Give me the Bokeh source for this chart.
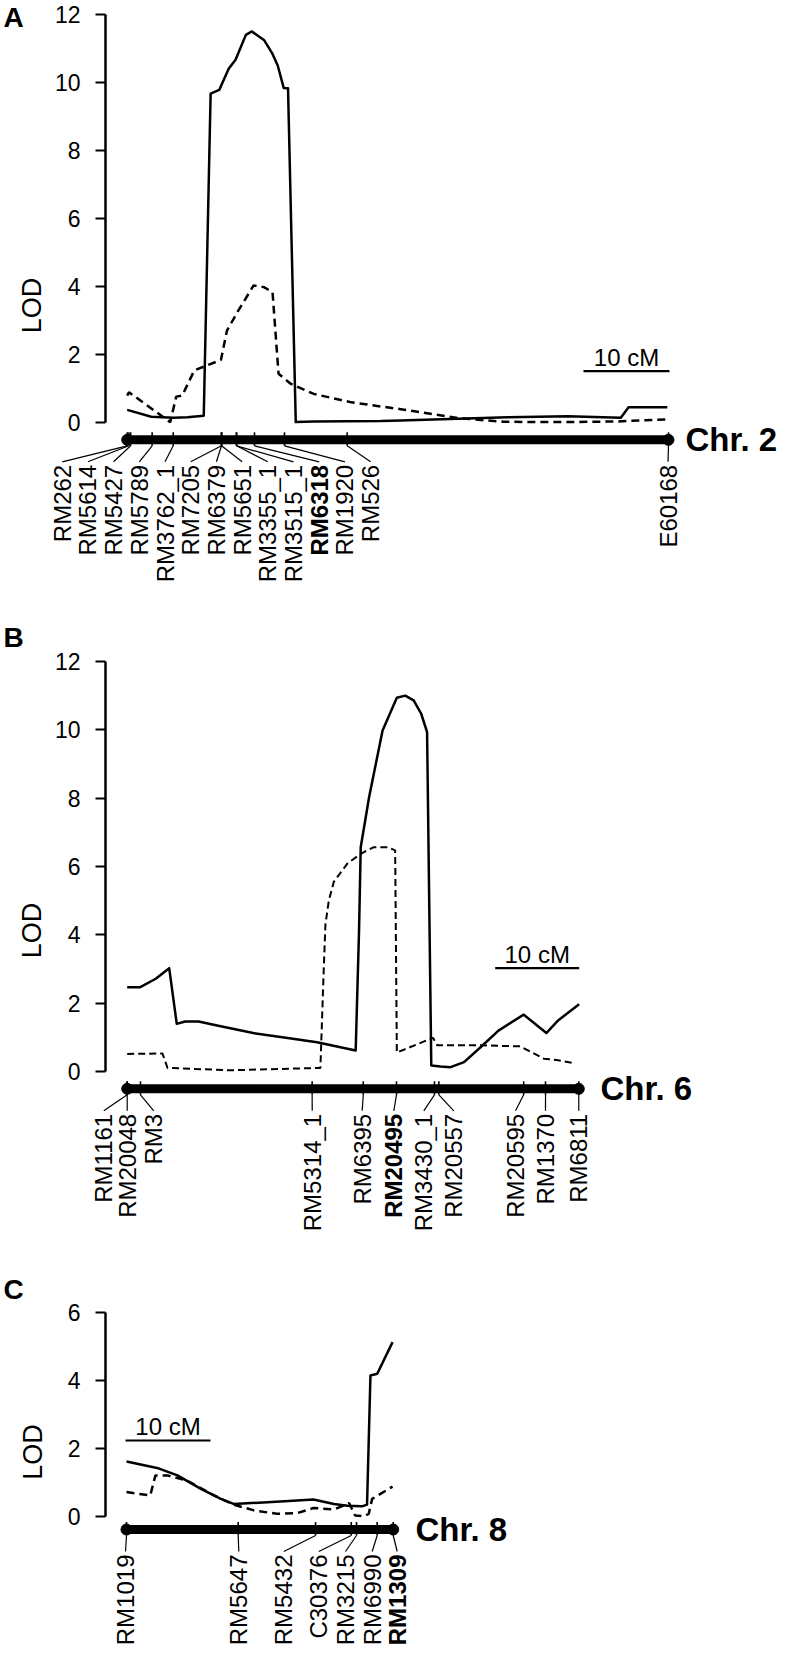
import numpy as np
from bokeh.plotting import figure
from bokeh.models import Range1d, FixedTicker
from bokeh.layouts import column
from bokeh.embed import file_html
from bokeh.resources import INLINE
from bokeh.core.properties import value

FONT = "Liberation Sans"

# ---------------- Panel A : chromosome 2 ----------------
a_markers = ["RM262", "RM5614", "RM5427", "RM5789", "RM3762_1", "RM7205", "RM6379",
             "RM5651", "RM3355_1", "RM3515_1", "RM6318", "RM1920", "RM526", "E60168"]
a_marker_cm = [0.0, 0.2, 0.4, 2.9, 5.35, 10.97, 10.97, 10.97, 12.71, 12.71, 14.8, 18.29, 25.58, 62.94]
a_bold = ["RM6318"]
a_solid_cm = [0.0, 2.8, 5.4, 7.0, 8.9, 9.7, 10.7, 11.8, 12.6, 13.8, 14.5, 15.9, 16.9, 17.5,
              18.2, 18.7, 19.6, 21.7, 29.5, 31.8, 44.2, 51.2, 57.4, 58.3, 62.8]
a_solid_lod = [0.38, 0.18, 0.15, 0.16, 0.21, 9.68, 9.79, 10.41, 10.68, 11.41, 11.51, 11.26, 10.85, 10.51,
               9.85, 9.84, 0.02, 0.04, 0.05, 0.07, 0.16, 0.19, 0.15, 0.46, 0.46]
a_dash_cm = [0.0, 0.2, 5.0, 5.7, 6.4, 7.8, 10.9, 11.6, 12.8, 14.7, 15.9, 16.9, 17.6, 19.0,
             21.7, 25.9, 29.5, 31.8, 38.4, 43.8, 50.8, 57.0, 62.8]
a_dash_lod = [0.80, 0.90, 0.02, 0.77, 0.80, 1.54, 1.85, 2.71, 3.25, 4.04, 3.99, 3.84, 1.44, 1.15,
              0.85, 0.61, 0.48, 0.40, 0.14, 0.03, 0.02, 0.04, 0.10]

# ---------------- Panel B : chromosome 6 ----------------
b_markers = ["RM1161", "RM20048", "RM3", "RM5314_1", "RM6395", "RM20495", "RM3430_1",
             "RM20557", "RM20595", "RM1370", "RM6811"]
b_marker_cm = [0.0, 0.0, 1.58, 22.02, 28.1, 32.06, 36.58, 37.1, 47.2, 49.8, 53.76]
b_bold = ["RM20495"]
b_solid_cm = [0.0, 1.5, 3.4, 5.0, 5.9, 6.9, 8.5, 10.7, 15.0, 19.3, 22.6, 27.2, 27.6, 27.8, 28.8,
              30.4, 32.1, 33.1, 34.1, 35.0, 35.7, 36.2, 37.3, 38.5, 40.1, 42.1, 44.2, 47.2, 49.9, 51.3, 53.8]
b_solid_lod = [2.46, 2.46, 2.71, 3.02, 1.39, 1.46, 1.46, 1.34, 1.12, 0.97, 0.85, 0.61, 4.12, 6.56, 8.03,
               9.98, 10.94, 11.0, 10.86, 10.47, 9.93, 0.17, 0.14, 0.12, 0.27, 0.71, 1.19, 1.66, 1.12, 1.49, 1.96]
b_dash_cm = [0.0, 4.2, 4.8, 12.3, 23.0, 23.4, 23.6, 24.0, 24.6, 26.2, 27.8, 29.3, 31.0, 31.9,
             32.1, 36.4, 36.9, 42.1, 46.8, 49.6, 51.1, 53.2]
b_dash_lod = [0.51, 0.52, 0.10, 0.03, 0.10, 3.0, 4.3, 5.0, 5.55, 6.08, 6.37, 6.56, 6.56, 6.47,
              0.55, 0.98, 0.76, 0.76, 0.73, 0.37, 0.33, 0.24]

# ---------------- Panel C : chromosome 8 ----------------
c_markers = ["RM1019", "RM5647", "RM5432", "C30376", "RM3215", "RM6990", "RM1309"]
c_marker_cm = [0.0, 13.14, 22.24, 26.44, 27.06, 29.49, 31.38]
c_bold = ["RM1309"]
c_solid_cm = [0.0, 3.6, 6.0, 8.7, 11.1, 12.6, 16.6, 22.0, 24.4, 26.0, 27.7, 28.3, 28.7, 29.5, 31.3]
c_solid_lod = [1.61, 1.42, 1.20, 0.81, 0.51, 0.36, 0.41, 0.49, 0.36, 0.31, 0.29, 0.34, 4.14, 4.19, 5.12]
c_dash_cm = [0.0, 2.8, 3.4, 4.8, 7.1, 10.3, 12.6, 15.0, 17.7, 20.1, 22.0, 24.4, 26.2, 26.9,
             27.9, 28.5, 28.9, 31.3]
c_dash_lod = [0.71, 0.61, 1.20, 1.20, 1.05, 0.61, 0.34, 0.17, 0.07, 0.09, 0.24, 0.20, 0.38, 0.02,
              0.00, 0.07, 0.51, 0.87]

a_yticks = [0, 2, 4, 6, 8, 10, 12]
b_yticks = [0, 2, 4, 6, 8, 10, 12]
c_yticks = [0, 2, 4, 6]

# ---------------- layout geometry (page pixels) ----------------
LAY_A = dict(top=0, height=610, zero_y=422.3, ppu=34.0, zero_x=126.7, ppc=8.6, bar_y=439.3,
             chr_x=685, letter_mid=17, scale_y=370.7, scale_x=583.0,
             label_x=[61.7, 87.4, 113.1, 138.8, 164.5, 190.2, 215.9, 241.6, 267.3, 293.0,
                      318.7, 344.4, 370.1, 667.5],
             dash="8 5", dash_w=2.5, lab_standoff=5)
LAY_B = dict(top=610, height=640, zero_y=1070.8, ppu=34.15, zero_x=126.7, ppc=8.4, bar_y=1088.3,
             chr_x=600, letter_mid=637, scale_y=967.7, scale_x=494.7,
             label_x=[103.3, 126.7, 153.3, 311.7, 361.7, 393.3, 423.3, 453.3, 515.0, 545.0, 578.3],
             dash="7 4", dash_w=2.0, lab_standoff=5)
LAY_C = dict(top=1250, height=403, zero_y=1515.7, ppu=34.0, zero_x=126.0, ppc=8.5, bar_y=1529.0,
             chr_x=415, letter_mid=1289, scale_y=1440.0, scale_x=125.0,
             label_x=[125.0, 238.3, 283.3, 318.3, 345.0, 371.7, 396.7],
             dash="8 5", dash_w=2.5, lab_standoff=17)


def make_panel(letter, chrom, markers, marker_cm, bold, s_cm, s_lod, d_cm, d_lod, yticks, L):
    top, H = L["top"], L["height"]
    zy, ppu, zx, ppc = L["zero_y"], L["ppu"], L["zero_x"], L["ppc"]

    def X(px):
        return (px - zx) / ppc

    def Y(py):
        return (zy - py) / ppu

    frame_left, frame_right = 105, 789
    p = figure(width=789, height=H, output_backend="svg", toolbar_location=None,
               x_range=Range1d(X(frame_left), X(frame_right)),
               y_range=Range1d(Y(top + H), Y(top)),
               x_axis_location=None,
               min_border_left=frame_left, min_border_right=0,
               min_border_top=0, min_border_bottom=0)
    p.outline_line_color = None
    p.xgrid.visible = False
    p.ygrid.visible = False
    p.background_fill_color = "white"
    p.border_fill_color = "white"

    ax = p.yaxis[0]
    ax.ticker = FixedTicker(ticks=yticks)
    ax.bounds = (yticks[0], yticks[-1])
    ax.axis_label = "LOD"
    ax.axis_label_text_font = FONT
    ax.axis_label_text_font_size = "27px"
    ax.axis_label_text_font_style = "normal"
    ax.axis_label_text_color = "black"
    ax.axis_label_standoff = L["lab_standoff"]
    ax.major_label_text_font = FONT
    ax.major_label_text_font_size = "23px"
    ax.major_label_text_color = "black"
    ax.major_label_standoff = 15
    ax.major_tick_out = 10
    ax.major_tick_in = 0
    ax.minor_tick_line_color = None
    ax.axis_line_width = 2.5
    ax.axis_line_color = "black"
    ax.major_tick_line_width = 2
    ax.major_tick_line_color = "black"

    # LOD curves
    p.line(d_cm, d_lod, line_color="black", line_width=L["dash_w"], line_dash=L["dash"])
    p.line(s_cm, s_lod, line_color="black", line_width=2.5, line_join="round")

    # chromosome bar
    yb = Y(L["bar_y"])
    total = marker_cm[-1]
    p.segment(x0=[0], y0=[yb], x1=[total], y1=[yb], line_color="black",
              line_width=9, line_cap="round")
    p.scatter([0, total], [yb, yb], size=11, color="black")

    # marker ticks and connectors
    t_top, t_bot = Y(L["bar_y"] - 7.5), Y(L["bar_y"] + 6)
    c_end, l_y = Y(L["bar_y"] + 22), Y(L["bar_y"] + 25)
    lx = [X(v) for v in L["label_x"]]
    n = len(markers)
    r1 = p.segment(x0=marker_cm, y0=[t_top] * n, x1=marker_cm, y1=[t_bot] * n,
                   line_color="black", line_width=1.6)
    r2 = p.segment(x0=marker_cm, y0=[t_bot] * n, x1=lx, y1=[c_end] * n,
                   line_color="black", line_width=1.2)
    r1.level = "overlay"
    r2.level = "overlay"

    for want_bold in (False, True):
        idx = [i for i, m in enumerate(markers) if (m in bold) == want_bold]
        if not idx:
            continue
        rt = p.text(x=[lx[i] for i in idx], y=[l_y] * len(idx),
                    text=[markers[i] for i in idx], angle=np.pi / 2,
                    text_align="right", text_baseline="middle",
                    text_font=value(FONT), text_font_size=value("24px"),
                    text_font_style="bold" if want_bold else "normal",
                    text_color="black")
        rt.level = "overlay"

    # scale bar 10 cM
    sx0 = X(L["scale_x"])
    p.segment(x0=[sx0], y0=[Y(L["scale_y"])], x1=[sx0 + 10], y1=[Y(L["scale_y"])],
              line_color="black", line_width=2.2)
    r = p.text(x=[sx0 + 5], y=[Y(L["scale_y"] - 14)], text=["10 cM"],
               text_align="center", text_baseline="middle",
               text_font=value(FONT), text_font_size=value("24px"), text_color="black")
    r.level = "overlay"

    # chromosome name
    r = p.text(x=[X(L["chr_x"])], y=[yb], text=[chrom], text_align="left",
               text_baseline="middle", text_font=value(FONT), text_font_size=value("33px"),
               text_font_style="bold", text_color="black")
    r.level = "overlay"
    # panel letter
    r = p.text(x=[X(3)], y=[Y(L["letter_mid"])], text=[letter], text_align="left",
               text_baseline="middle", text_font=value(FONT), text_font_size=value("28px"),
               text_font_style="bold", text_color="black")
    r.level = "overlay"
    return p


pA = make_panel("A", "Chr. 2", a_markers, a_marker_cm, a_bold, a_solid_cm, a_solid_lod,
                a_dash_cm, a_dash_lod, a_yticks, LAY_A)
pB = make_panel("B", "Chr. 6", b_markers, b_marker_cm, b_bold, b_solid_cm, b_solid_lod,
                b_dash_cm, b_dash_lod, b_yticks, LAY_B)
pC = make_panel("C", "Chr. 8", c_markers, c_marker_cm, c_bold, c_solid_cm, c_solid_lod,
                c_dash_cm, c_dash_lod, c_yticks, LAY_C)

layout = column(pA, pB, pC, spacing=0)
open("out.html", "w").write(file_html(layout, INLINE))
